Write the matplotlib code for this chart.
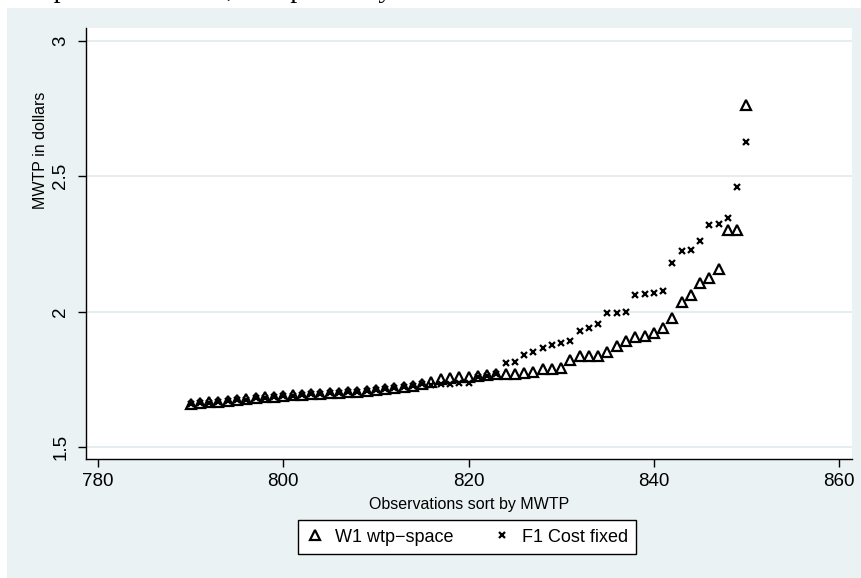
import matplotlib.pyplot as plt
from matplotlib.patches import Rectangle

# observations (sorted by MWTP)
obs = list(range(790, 851))

# W1 wtp-space
w1_wtp = [1.660, 1.662, 1.665, 1.668, 1.670, 1.673, 1.676, 1.680, 1.683, 1.686,
          1.689, 1.691, 1.693, 1.695, 1.697, 1.699, 1.701, 1.703, 1.705, 1.707,
          1.710, 1.714, 1.718, 1.722, 1.727, 1.733, 1.740, 1.752, 1.755, 1.757,
          1.759, 1.762, 1.765, 1.768, 1.769, 1.770, 1.772, 1.778, 1.788, 1.790,
          1.792, 1.820, 1.835, 1.836, 1.837, 1.850, 1.873, 1.890, 1.908, 1.910,
          1.920, 1.940, 1.975, 2.035, 2.060, 2.105, 2.124, 2.157, 2.300, 2.300,
          2.763]

# F1 Cost fixed
f1_cost = [1.658, 1.661, 1.664, 1.667, 1.671, 1.672, 1.675, 1.681, 1.682, 1.685,
           1.690, 1.690, 1.692, 1.694, 1.696, 1.698, 1.700, 1.702, 1.704, 1.706,
           1.709, 1.715, 1.717, 1.720, 1.726, 1.731, 1.730, 1.732, 1.733, 1.735,
           1.738, 1.760, 1.763, 1.770, 1.810, 1.814, 1.840, 1.852, 1.866, 1.878,
           1.884, 1.890, 1.930, 1.940, 1.955, 1.995, 1.996, 1.998, 2.060, 2.066,
           2.070, 2.076, 2.180, 2.224, 2.228, 2.260, 2.320, 2.324, 2.346, 2.460,
           2.627]

xticks = [780, 800, 820, 840, 860]
yticks = [1.5, 2, 2.5, 3]
ytick_labels = ["1.5", "2", "2.5", "3"]

plt.rcParams['font.family'] = ['Liberation Sans', 'DejaVu Sans']

W, H = 861, 578
fig = plt.figure(figsize=(W / 100, H / 100), dpi=100, facecolor='white')

# stata-like graph region
fig.patches.append(Rectangle((7 / W, 0), (W - 7) / W, (H - 8) / H,
                             transform=fig.transFigure, facecolor='#EAF2F3',
                             edgecolor='none', zorder=-5))

# cut-off line of document text above the graph (only the descenders show)
serif = ['Liberation Serif', 'DejaVu Serif']
ytxt = 1 + 3 / H
fig.text(26 / W, ytxt, "Top", fontsize=20, family=serif, va='baseline', ha='left')
fig.text(234 / W, ytxt, "rows,", fontsize=20, family=serif, va='baseline', ha='right')
fig.text(393 / W, ytxt, "respectively", fontsize=20, family=serif,
         va='baseline', ha='right')

ax = fig.add_axes([86 / W, 1 - 459 / H, (852 - 86) / W, (459 - 28) / H])
ax.set_facecolor('white')

ax.plot(obs, w1_wtp, linestyle='none', marker='^', markersize=7.5,
        markerfacecolor='none', markeredgecolor='black', markeredgewidth=1.6,
        label='W1 wtp\u2212space', zorder=3)
ax.plot(obs, f1_cost, linestyle='none', marker='x', markersize=5,
        color='black', markeredgewidth=1.6, label='F1 Cost fixed', zorder=3)

ax.set_xlim(778.7, 861.4)
ax.set_ylim(1.4557, 3.048)
ax.set_xticks(xticks)
ax.set_yticks(yticks)
ax.set_yticklabels(ytick_labels, rotation=90, va='center')

for s in ['top', 'right']:
    ax.spines[s].set_visible(False)
for s in ['left', 'bottom']:
    ax.spines[s].set_linewidth(1.0)
    ax.spines[s].set_color('black')

ax.tick_params(axis='both', direction='out', length=6, width=1, labelsize=13.5,
               colors='black')
ax.tick_params(axis='x', pad=4)
ax.tick_params(axis='y', pad=6)
ax.yaxis.grid(True, color='#E4ECEF', linewidth=1.3)
ax.set_axisbelow(True)

ax.set_xlabel('Observations sort by MWTP', fontsize=11.5, labelpad=5)
ax.set_ylabel('MWTP in dollars', fontsize=11.5)
ax.yaxis.set_label_coords(-0.05, 0.717)

leg = fig.legend(loc='center', bbox_to_anchor=(467 / W, 1 - 537 / H), ncol=2,
                 fontsize=13, frameon=True, fancybox=False, edgecolor='black',
                 framealpha=1, handlelength=1.0, handletextpad=0.6,
                 columnspacing=2.2, borderpad=0.45)
leg.get_frame().set_linewidth(1.0)

fig.savefig('out.png', dpi=100, facecolor=fig.get_facecolor())
